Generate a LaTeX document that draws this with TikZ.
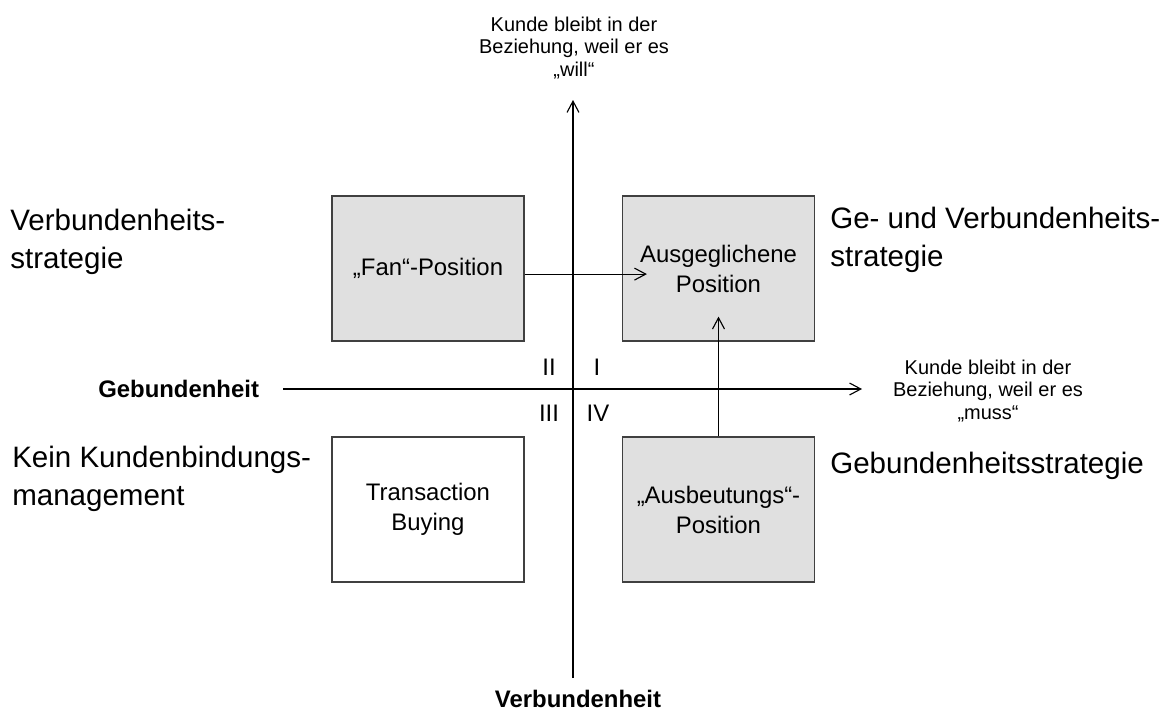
\documentclass[tikz,border=0pt]{standalone}
\usepackage{fontspec}
\setmainfont{Liberation Sans}
\usetikzlibrary{arrows.meta}
\definecolor{feldgrau}{RGB}{224,224,224}
\definecolor{randgrau}{RGB}{64,64,64}
\tikzset{
  feld/.style={draw=randgrau, line width=0.8pt, minimum width=4.8cm, minimum height=3.625cm,
    align=center, inner sep=0pt, font=\fontsize{17}{21.3}\selectfont},
  pfeil/.style={-{Straight Barb[length=8pt,width=8.5pt]}, line width=0.8pt},
  gross/.style={align=left, inner sep=0pt, font=\fontsize{21}{27.3}\selectfont},
  klein/.style={align=center, inner sep=0pt, font=\fontsize{14.2}{15.8}\selectfont},
  fett/.style={inner sep=0pt, font=\fontsize{17}{20}\selectfont\bfseries},
  roem/.style={inner sep=0pt, font=\fontsize{17}{20}\selectfont}
}

\begin{document}
\begin{tikzpicture}[x=0.025cm, y=-0.025cm]
			%%%%% START %%%%%
			\useasboundingbox[fill=white] (0, 0) rectangle (1173, 725);
			
			% axes
			\coordinate (xl) at (283, 389);
			\coordinate (xr) at (862, 389);
			\coordinate (yb) at (573, 678);
			\coordinate (yt) at (573, 100);
			\draw[pfeil] (xl) -- (xr);
			\draw[pfeil] (yb) -- (yt);
			
			\node[klein] (will) at (574, 48) {Kunde bleibt in der\\Beziehung, weil er es\\„will“};
			\node[klein] (muss) at (988, 391) {Kunde bleibt in der\\Beziehung, weil er es\\„muss“};
			\node[fett, anchor=base west] (gebund) at (98, 397) {Gebundenheit};
			\node[fett, anchor=base] (verbund) at (578, 707) {Verbundenheit};
			
			% quadrants
			\node[roem] (q2) at (549, 367) {II};
			\node[roem] (q1) at (597, 367) {I};
			\node[roem] (q3) at (549, 413) {III};
			\node[roem] (q4) at (598, 413) {IV};
			
			% boxes
			\node[feld, fill=feldgrau] (fan) at (428, 268.5) {„Fan“-Position};
			\node[feld, fill=feldgrau] (ausg) at (718.5, 268.5) {Ausgeglichene\\Position};
			\node[feld, fill=white] (trans) at (428, 509.5) {Transaction\\Buying};
			\node[feld, fill=feldgrau] (ausb) at (718.5, 509.5) {„Ausbeutungs“-\\Position};
			
			\draw[pfeil] ([yshift=-0.14cm]fan.east) -- ([xshift=0.625cm, yshift=-0.14cm]ausg.west);
			\draw[pfeil] (ausb.north) -- ([yshift=0.625cm]ausg.south);
			
			% strategies
			\node[gross, anchor=west] (s2) at (10, 242) {Verbundenheits-\\strategie};
			\node[gross, anchor=west] (s1) at (830, 240) {Ge- und Verbundenheits-\\strategie};
			\node[gross, anchor=west] (s3) at (12, 479) {Kein Kundenbindungs-\\management};
			\node[gross, anchor=base west] (s4) at (830, 473) {Gebundenheitsstrategie};
			
			%%%%% END %%%%%
\end{tikzpicture}
\end{document}
